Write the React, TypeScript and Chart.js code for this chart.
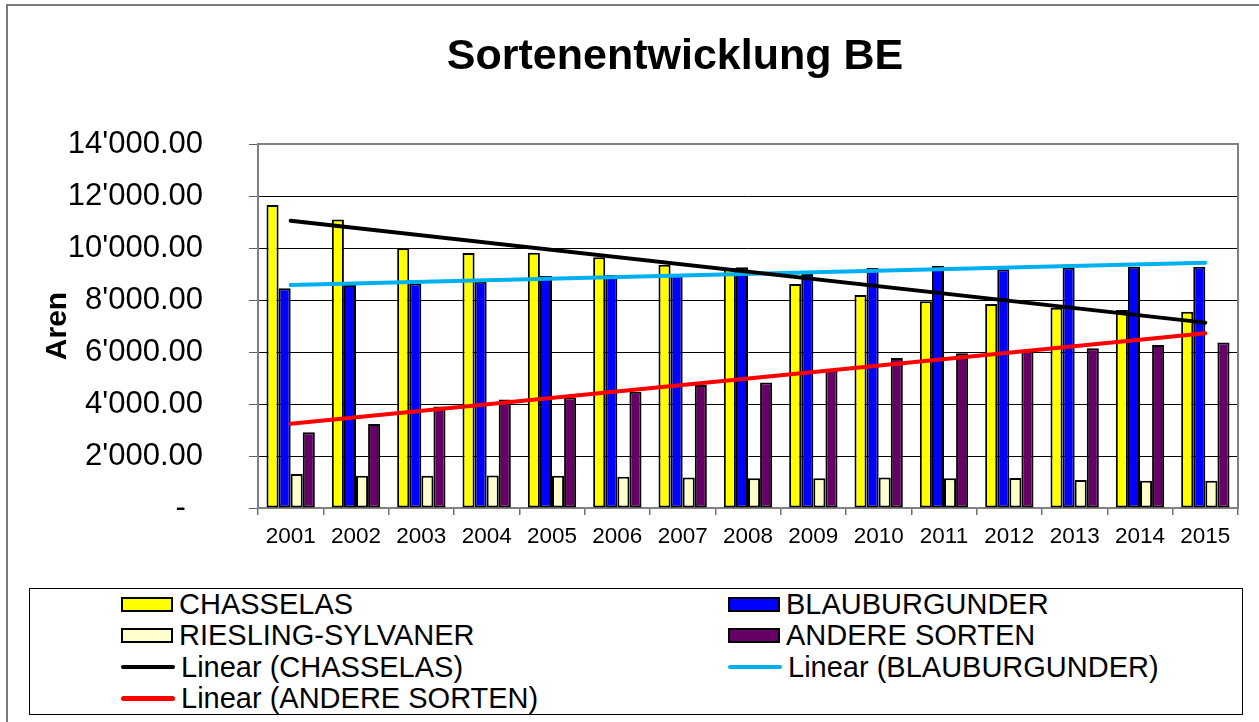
import React, { useEffect, useRef } from 'react';
import { Chart, registerables } from 'chart.js';

Chart.register(...registerables);

const TITLE = 'Sortenentwicklung BE';
const Y_TITLE = 'Aren';
const FONT = "'Liberation Sans', Arial, Helvetica, sans-serif";

const YEARS = ['2001', '2002', '2003', '2004', '2005', '2006', '2007', '2008', '2009', '2010', '2011', '2012', '2013', '2014', '2015'];

const CHASSELAS = [11650, 11100, 10000, 9810, 9820, 9640, 9360, 9230, 8620, 8190, 7950, 7850, 7700, 7620, 7550];
const BLAUBURGUNDER = [8450, 8580, 8640, 8700, 8920, 8960, 8950, 9260, 9000, 9230, 9310, 9180, 9240, 9280, 9280];
const RIESLING = [1310, 1240, 1240, 1250, 1240, 1200, 1170, 1140, 1140, 1170, 1140, 1150, 1080, 1050, 1050];
const ANDERE = [2910, 3230, 3900, 4170, 4250, 4470, 4730, 4830, 5330, 5770, 5950, 6080, 6140, 6270, 6370];

// trend line values at first and last year
const TREND_CHASSELAS = [11050, 7130];
const TREND_BLAUBURGUNDER = [8580, 9430];
const TREND_ANDERE = [3240, 6720];

const Y_MIN = 0;
const Y_MAX = 14000;
const Y_STEP = 2000;

const SERIES_LABELS = ['CHASSELAS', 'BLAUBURGUNDER', 'RIESLING-SYLVANER', 'ANDERE SORTEN'];
const TREND_LABELS = ['Linear (CHASSELAS)', 'Linear (BLAUBURGUNDER)', 'Linear (ANDERE SORTEN)'];

const BAR_COLORS = ['#FFFF00', '#0000FF', '#FFFFCC', '#660066'];
const TREND_COLORS = ['#000000', '#00B0F0', '#FF0000'];

function trendData(ends: number[]): (number | null)[] {
  const arr: (number | null)[] = YEARS.map(() => null);
  arr[0] = ends[0];
  arr[YEARS.length - 1] = ends[1];
  return arr;
}

function formatTick(v: number): string {
  if (v === 0) return '-  ';
  const th = Math.floor(v / 1000);
  const rest = String(v % 1000).padStart(3, '0');
  return `${th}'${rest}.00`;
}

const titlePlugin = {
  id: 'excelTitle',
  afterDraw(chart: any) {
    const ctx = chart.ctx;
    ctx.save();
    ctx.font = `bold 43px ${FONT}`;
    ctx.fillStyle = '#000';
    ctx.textAlign = 'center';
    ctx.textBaseline = 'middle';
    ctx.fillText(TITLE, 675, 57);
    ctx.restore();
  },
};

const plotBorderPlugin = {
  id: 'plotBorder',
  beforeDatasetsDraw(chart: any) {
    const { ctx, chartArea } = chart;
    ctx.save();
    ctx.strokeStyle = '#808080';
    ctx.lineWidth = 2;
    ctx.strokeRect(chartArea.left, chartArea.top, chartArea.right - chartArea.left, chartArea.bottom - chartArea.top);
    ctx.restore();
  },
};

export default function App() {
  const canvasRef = useRef<HTMLCanvasElement | null>(null);

  useEffect(() => {
    const canvas = canvasRef.current;
    if (!canvas) return;
    const barData = [CHASSELAS, BLAUBURGUNDER, RIESLING, ANDERE];
    const trends = [TREND_CHASSELAS, TREND_BLAUBURGUNDER, TREND_ANDERE];
    const chart = new Chart(canvas, {
      type: 'bar',
      data: {
        labels: YEARS,
        datasets: [
          ...barData.map((d, i) => ({
            type: 'bar' as const,
            label: SERIES_LABELS[i],
            data: d,
            backgroundColor: BAR_COLORS[i],
            borderColor: '#000000',
            borderWidth: 2,
            borderSkipped: false,
            categoryPercentage: 0.74,
            barPercentage: 1,
            order: 1,
          })),
          ...trends.map((t, i) => ({
            type: 'line' as const,
            label: TREND_LABELS[i],
            data: trendData(t),
            borderColor: TREND_COLORS[i],
            backgroundColor: TREND_COLORS[i],
            borderWidth: 4,
            borderCapStyle: 'round' as const,
            pointRadius: 0,
            spanGaps: true,
            fill: false,
            order: 0,
          })),
        ] as any,
      },
      options: {
        responsive: false,
        animation: false,
        layout: { padding: { top: 144, right: 21, bottom: 0, left: 0 } },
        plugins: {
          legend: { display: false },
          tooltip: { enabled: false },
          title: { display: false },
        },
        scales: {
          x: {
            offset: true,
            grid: {
              offset: true,
              drawOnChartArea: false,
              tickLength: 7,
              color: '#707070',
              lineWidth: 1.5,
            },
            border: { color: '#707070', width: 2 },
            ticks: {
              color: '#000',
              font: { family: FONT, size: 22.5 },
              padding: 8,
              maxRotation: 0,
              autoSkip: false,
            },
            afterFit: (s: any) => {
              s.height = 214;
            },
          },
          y: {
            min: Y_MIN,
            max: Y_MAX,
            ticks: {
              stepSize: Y_STEP,
              color: '#000',
              font: { family: FONT, size: 31 },
              padding: 46,
              callback: (v: any) => formatTick(Number(v)),
            },
            grid: {
              color: (c: any) => (c.tick && c.tick.value === Y_MAX ? '#808080' : '#000000'),
              tickColor: '#606060',
              tickLength: 9,
              lineWidth: 1,
            },
            border: { color: '#707070', width: 2 },
            title: {
              display: true,
              text: Y_TITLE,
              color: '#000',
              font: { family: FONT, size: 30, weight: 'bold' },
              padding: { top: 40, bottom: 0 },
            },
            afterFit: (s: any) => {
              s.width = 258;
            },
          },
        },
      } as any,
      plugins: [titlePlugin, plotBorderPlugin],
    });
    return () => chart.destroy();
  }, []);

  const legendItems = [
    { label: SERIES_LABELS[0], kind: 'bar', color: BAR_COLORS[0] },
    { label: SERIES_LABELS[1], kind: 'bar', color: BAR_COLORS[1] },
    { label: SERIES_LABELS[2], kind: 'bar', color: BAR_COLORS[2] },
    { label: SERIES_LABELS[3], kind: 'bar', color: BAR_COLORS[3] },
    { label: TREND_LABELS[0], kind: 'line', color: TREND_COLORS[0] },
    { label: TREND_LABELS[1], kind: 'line', color: TREND_COLORS[1] },
    { label: TREND_LABELS[2], kind: 'line', color: TREND_COLORS[2] },
  ];

  return (
    <div
      style={{
        position: 'fixed',
        left: 0,
        top: 0,
        width: 1259,
        height: 722,
        overflow: 'hidden',
        background: '#fff',
        fontFamily: FONT,
      }}
    >
      <div
        style={{
          position: 'absolute',
          left: 6,
          top: 4,
          width: 2000,
          height: 2000,
          borderLeft: '2px solid #7a7a7a',
          borderTop: '2px solid #7a7a7a',
        }}
      />
      <canvas
        ref={canvasRef}
        width={1259}
        height={722}
        style={{ position: 'absolute', left: 0, top: 0, width: 1259, height: 722 }}
      />
      <div
        style={{
          position: 'absolute',
          left: 29,
          top: 588,
          width: 1214,
          height: 127,
          boxSizing: 'border-box',
          border: '1px solid #000',
          background: '#fff',
        }}
      >
        {legendItems.map((it, i) => {
          const col = i % 2;
          const row = Math.floor(i / 2);
          return (
            <div
              key={it.label}
              style={{
                position: 'absolute',
                left: col === 0 ? 91 : 698,
                top: row * 31.3,
                height: 31.3,
                display: 'flex',
                alignItems: 'center',
                whiteSpace: 'nowrap',
              }}
            >
              {it.kind === 'bar' ? (
                <div
                  style={{
                    width: 52,
                    height: 15,
                    boxSizing: 'border-box',
                    border: '2px solid #000',
                    background: it.color,
                  }}
                />
              ) : (
                <div
                  style={{
                    width: 54,
                    height: 4.5,
                    borderRadius: 3,
                    background: it.color,
                  }}
                />
              )}
              <span
                style={{
                  marginLeft: 6,
                  fontSize: 29,
                  lineHeight: 1,
                  color: '#000',
                }}
              >
                {it.label}
              </span>
            </div>
          );
        })}
      </div>
    </div>
  );
}
